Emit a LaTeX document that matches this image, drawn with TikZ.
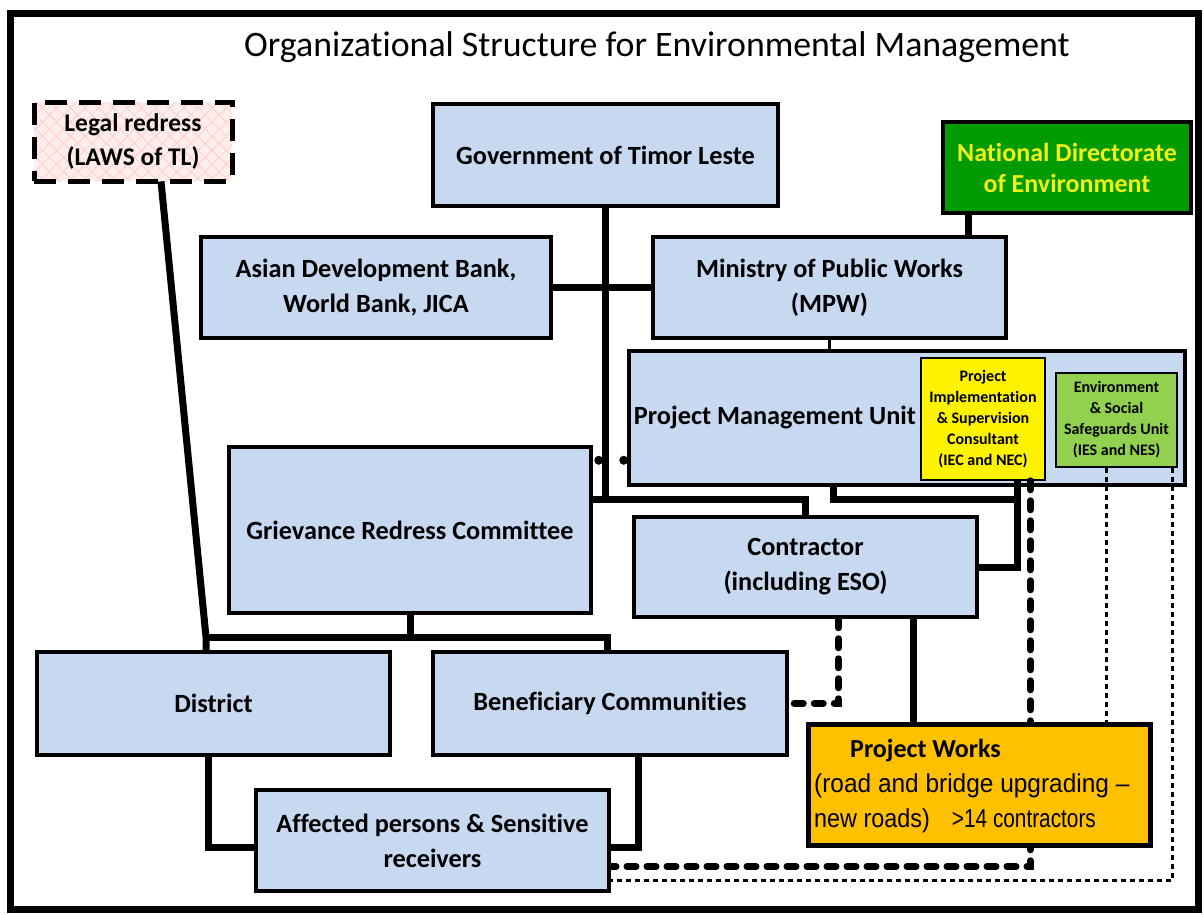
\documentclass[tikz,border=0pt]{standalone}
\usepackage{fontspec}
\setmainfont{Carlito}[Ligatures={TeX,NoCommon}]
\newfontfamily\arialfont{Liberation Sans}
\usepackage{tikz}
\usetikzlibrary{patterns.meta}
\definecolor{boxblue}{RGB}{198,217,240}
\definecolor{ndegreen}{RGB}{0,155,0}
\definecolor{ndeyellow}{RGB}{240,240,20}
\definecolor{esugreen}{RGB}{146,208,80}
\definecolor{pworange}{RGB}{255,192,0}
\definecolor{legalpink}{RGB}{253,238,236}

\begin{document}
\begin{tikzpicture}[x=1pt, y=-1pt]
	\tikzstyle{box}=[draw, line width=3.5, fill=boxblue, align=center, inner sep=0pt,
	                  font=\bfseries\fontsize{26.3}{35}\selectfont];
	\tikzstyle{link}=[line width=7];
	\tikzstyle{slim}=[line width=3];
	\tikzstyle{bigdash}=[line width=7, line cap=round, dash pattern=on 9pt off 11pt];
	\tikzstyle{smalldash}=[line width=3, dash pattern=on 5pt off 4pt];
	\tikzstyle{dotrow}=[line width=9, line cap=round, dash pattern=on 0pt off 25pt, dash phase=19pt];
	\useasboundingbox (0,0) rectangle (1204,914);
	\node[draw, line width=7, minimum width=1188, minimum height=896, inner sep=0pt] (frame) at (604,461) {};
	\node[font=\fontsize{35.8}{40}\selectfont] (title) at (657,47) {Organizational Structure for Environmental Management};
	\node[draw, line width=5, dash pattern=on 22pt off 12pt, preaction={fill=legalpink},
	      pattern={Hatch[angle=45, distance=10pt, line width=0.8pt]}, pattern color=red!20,
	      minimum width=198, minimum height=79, align=center, inner sep=0pt,
	      font=\bfseries\fontsize{25.5}{34}\selectfont] (legal) at (133,141.5) {Legal redress\\(LAWS of TL)};
	\node[box, minimum width=345, minimum height=102] (gov) at (605.5,155) {Government of Timor Leste};
	\node[box, fill=ndegreen, text=ndeyellow, minimum width=248, minimum height=91,
	      font=\bfseries\fontsize{26}{31}\selectfont] (nde) at (1067,167.5) {National Directorate\\of Environment};
	\node[box, minimum width=350, minimum height=101] (adb) at (376,287.5) {Asian Development Bank,\\World Bank, JICA};
	\node[box, minimum width=353, minimum height=101] (mpw) at (829.5,287.5) {Ministry of Public Works\\(MPW)};
	\node[box, minimum width=556, minimum height=134] (pmu) at (907,418) {};
	\node[font=\bfseries\fontsize{26.3}{34}\selectfont] (pmutext) at (775,417) {Project Management Unit};
	\node[box, fill=yellow, line width=1.5, minimum width=124, minimum height=122,
	      font=\bfseries\fontsize{16}{21}\selectfont] (pic) at (983,419) {Project\\Implementation\\\& Supervision\\Consultant\\(IEC and NEC)};
	\node[box, fill=esugreen, line width=1.5, minimum width=121, minimum height=94,
	      font=\bfseries\fontsize{16}{21}\selectfont] (esu) at (1116.5,420) {Environment\\\& Social\\Safeguards Unit\\(IES and NES)};
	\node[box, minimum width=362, minimum height=166] (grc) at (410,530) {Grievance Redress Committee};
	\node[box, minimum width=343, minimum height=100] (con) at (805.5,567) {Contractor\\(including ESO)};
	\node[box, minimum width=353, minimum height=103] (dist) at (213.5,703.5) {District};
	\node[box, minimum width=354, minimum height=103] (bc) at (610,703.5) {Beneficiary Communities};
	\node[box, minimum width=353, minimum height=101] (apsr) at (432.5,840.5) {Affected persons \& Sensitive\\receivers};
	\path ([xshift=28]legal.south) coordinate (legalfoot)
	      ([xshift=27]nde.south west) coordinate (ndefoot)
	      ([xshift=-74]pmu.south) coordinate (pmufoot)
	      ([xshift=97]pic.south west) coordinate (picfoot)
	      ([xshift=110]pic.south west) coordinate (picdash)
	      ([xshift=108]con.south) coordinate (conpw)
	      ([xshift=33]con.south) coordinate (conbc)
	      ([xshift=-10]esu.south) coordinate (esupw)
	      ([xshift=56]esu.south) coordinate (esuap)
	      ([yshift=-15]grc.north east) coordinate (grcdot);
	\coordinate (jtop) at (605.5,499);
	\coordinate (jbar) at (206,637);
	\draw[link] (gov.south) -- (jtop);
	\draw[link] (grc.east |- jtop) -| (con.north);
	\draw[link] (adb.east) -- (mpw.west);
	\draw[link] (ndefoot) -- (ndefoot |- mpw.north);
	\draw[slim] (mpw.south) -- (mpw.south |- pmu.north);
	\draw[link] (pmufoot) |- (picfoot |- jtop);
	\draw[link] (picfoot) |- (con.east);
	\draw[dotrow] (grcdot) -- (grcdot -| pmu.west);
	\draw[link] (legalfoot) -- (jbar) -- (jbar |- dist.north);
	\draw[link] (jbar) -| ([xshift=-3]bc.north);
	\draw[link] (grc.south) -- (grc.south |- jbar);
	\draw[link] ([xshift=-5]dist.south) |- ([yshift=-7]apsr.west);
	\draw[link] ([xshift=28]bc.south) |- ([yshift=-7]apsr.east);
	\draw[bigdash] (conbc) |- (bc.east);
	\draw[bigdash] (picdash) |- ([yshift=-26]apsr.east);
	\draw[smalldash] (esuap) |- ([yshift=-40]apsr.east);
	\node[box, fill=pworange, line width=5, minimum width=342, minimum height=121] (pw) at (979,784.5) {};
	\node[anchor=west, align=left, inner sep=0pt, font=\fontsize{26}{35}\selectfont] (pwtext) at (814,786)
	     {\hspace*{36pt}\textbf{Project Works}\\
	      {\arialfont\scalebox{0.94}[1]{(road and bridge upgrading –}}\\
	      {\arialfont\scalebox{0.9}[1]{new roads)}\hspace{22pt}\scalebox{0.8}[1]{\textgreater14 contractors}}};
	\draw[link] (conpw) -- (conpw |- pw.north);
	\draw[smalldash] (esupw) -- (esupw |- pw.north);
\end{tikzpicture}
\end{document}
